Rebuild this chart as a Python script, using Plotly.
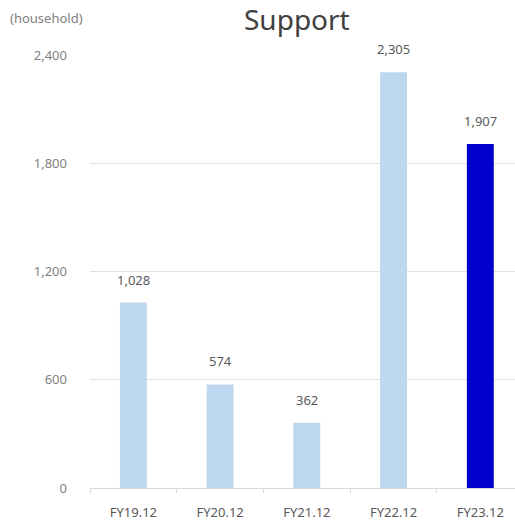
import plotly.graph_objects as go

categories = ["FY19.12", "FY20.12", "FY21.12", "FY22.12", "FY23.12"]
values = [1028, 574, 362, 2305, 1907]
colors = ["#BDD7EE", "#BDD7EE", "#BDD7EE", "#BDD7EE", "#0000CC"]
tick_vals = [0, 600, 1200, 1800, 2400]
tick_text = ["0", "600", "1,200", "1,800", "2,400"]

font_family = "Noto Sans, DejaVu Sans, sans-serif"

W, H = 515, 523
L, R, T, B = 90, 0, 55, 35
PW, PH = W - L - R, H - T - B

fig = go.Figure()
fig.add_trace(go.Bar(
    x=categories, y=values, marker=dict(color=colors, line=dict(width=0)),
    width=0.31, showlegend=False, hoverinfo="skip",
))

for c, v in zip(categories, values):
    fig.add_annotation(x=c, y=v, text=f"{v:,}", showarrow=False,
                       yanchor="bottom", yshift=12,
                       font=dict(size=13, color="#595959", family=font_family))

fig.add_annotation(x=(297 - L) / PW, y=1 + (T - 19) / PH,
                   xref="paper", yref="paper", text="Support", showarrow=False,
                   xanchor="center", yanchor="middle",
                   font=dict(size=28, color="#404040", family=font_family))
fig.add_annotation(x=(8 - L) / PW, y=1 + (T - 18) / PH,
                   xref="paper", yref="paper", text="(household)", showarrow=False,
                   xanchor="left", yanchor="middle",
                   font=dict(size=13, color="#7f7f7f", family=font_family))

fig.update_layout(
    width=W, height=H,
    margin=dict(l=L, r=R, t=T, b=B),
    paper_bgcolor="white", plot_bgcolor="white",
    font=dict(family=font_family, color="#7f7f7f", size=13),
)

fig.update_xaxes(range=[-0.5, 4.4], showline=True, linecolor="#d9d9d9", linewidth=1,
                 ticks="outside", tickson="boundaries", ticklen=4, tickcolor="#d9d9d9",
                 ticklabelstandoff=12, showgrid=False, automargin=False,
                 tickfont=dict(size=13, color="#595959"))
fig.update_yaxes(range=[0, 2400], tickvals=tick_vals, ticktext=tick_text,
                 showgrid=True, gridcolor="#e0e0e0", gridwidth=1, zeroline=False,
                 ticklabelstandoff=22, showline=False, automargin=False,
                 tickfont=dict(size=13, color="#7f7f7f"))

fig.write_html("out.html")
